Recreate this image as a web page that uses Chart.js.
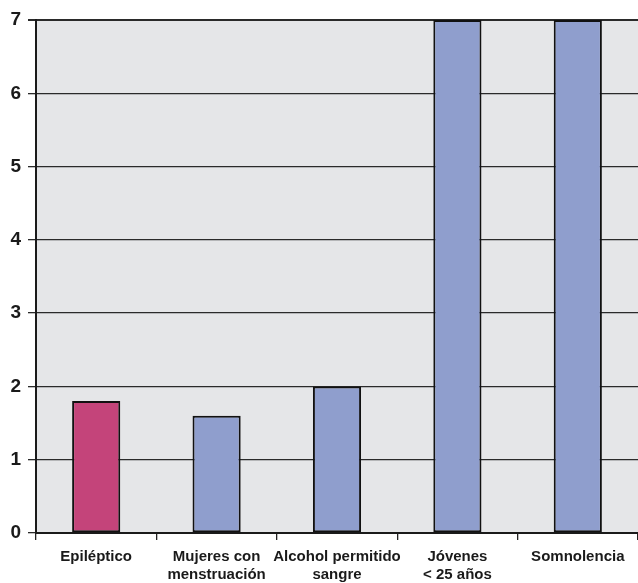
<!DOCTYPE html>
<html>
<head>
<meta charset="utf-8">
<script src="https://cdn.jsdelivr.net/npm/chart.js@4/dist/chart.umd.min.js"></script>
<style>
  html, body { margin: 0; padding: 0; background: #ffffff; }
  #wrap { width: 638px; height: 583px; }
</style>
</head>
<body>
<div id="wrap"><canvas id="c" width="638" height="583"></canvas></div>
<script>
// Categories (multi-line labels) and their values
const categories = [
  ['Epiléptico'],
  ['Mujeres con', 'menstruación'],
  ['Alcohol permitido', 'sangre'],
  ['Jóvenes', '< 25 años'],
  ['Somnolencia']
];
const values = [1.8, 1.6, 2.0, 7, 7];
const barColors = ['#c4447a', '#8f9ecd', '#8f9ecd', '#8f9ecd', '#8f9ecd'];
const yTicks = [0, 1, 2, 3, 4, 5, 6, 7];

// Grey plot-area background
const plotBackground = {
  id: 'plotBackground',
  beforeDraw(chart) {
    const { ctx, chartArea: a } = chart;
    ctx.save();
    ctx.fillStyle = '#e5e6e8';
    ctx.fillRect(a.left, a.top, a.right - a.left, a.bottom - a.top);
    ctx.restore();
  }
};

new Chart(document.getElementById('c'), {
  type: 'bar',
  data: {
    labels: categories,
    datasets: [{
      data: values,
      backgroundColor: barColors,
      borderColor: '#111111',
      borderWidth: 2,
      borderSkipped: false,
      categoryPercentage: 1.0,
      barPercentage: 0.4
    }]
  },
  options: {
    responsive: false,
    animation: false,
    layout: { padding: { top: 20, right: 0, bottom: 0, left: 0 } },
    plugins: { legend: { display: false }, tooltip: { enabled: false } },
    scales: {
      x: {
        offset: true,
        grid: {
          display: true,
          offset: true,
          drawOnChartArea: false,
          drawTicks: true,
          tickLength: 7,
          color: '#222222',
          lineWidth: 1.3
        },
        border: { display: true, color: '#1a1a1a', width: 2 },
        ticks: {
          color: '#1a1a1a',
          padding: 8,
          maxRotation: 0,
          autoSkip: false,
          font: { family: 'Liberation Sans, Arial, sans-serif', size: 15, weight: 'bold', lineHeight: 1.2 }
        },
        afterFit(scale) { scale.height = 50; }
      },
      y: {
        min: 0,
        max: 7,
        afterBuildTicks(scale) { scale.ticks = yTicks.map(v => ({ value: v })); },
        grid: {
          color: '#2a2a2a',
          lineWidth: (ctx) => (ctx.tick && ctx.tick.value === 7 ? 2 : 1.3),
          drawTicks: true,
          tickLength: 8
        },
        border: { display: true, color: '#1a1a1a', width: 2 },
        ticks: {
          color: '#1a1a1a',
          padding: 7,
          font: { family: 'Liberation Sans, Arial, sans-serif', size: 19, weight: 'bold' }
        },
        afterFit(scale) { scale.width = 36; }
      }
    }
  },
  plugins: [plotBackground]
});
</script>
</body>
</html>
